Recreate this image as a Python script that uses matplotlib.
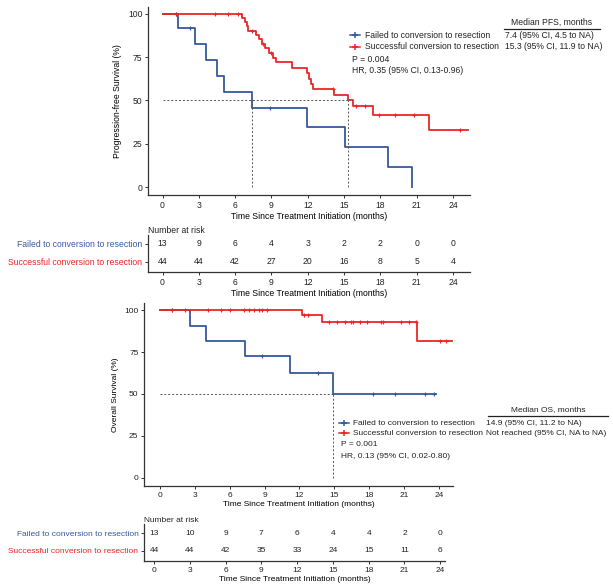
import matplotlib
matplotlib.use("Agg")
import matplotlib.pyplot as plt
from matplotlib.lines import Line2D

plt.rcParams["font.family"] = ["Liberation Sans", "DejaVu Sans"]

W, H = 613, 586
FS_TOP = 6.25
FS_BOTTOM = 6.0
BLUE = "#35589F"
RED = "#EC2626"
GREY = "#555555"

groups = ["Failed to conversion to resection", "Successful conversion to resection"]
risk_times = [0, 3, 6, 9, 12, 15, 18, 21, 24]

# progression-free survival (months, %)
pfs_failed_t = [0, 1.25, 2.65, 3.6, 4.5, 5.1, 7.4, 11.9, 15.05, 18.6, 20.6]
pfs_failed_s = [100, 91.7, 82.5, 73.3, 64.2, 55.0, 45.8, 34.4, 22.9, 11.5, 0]
pfs_failed_end = 20.6
pfs_failed_cens_t = [1.1, 2.3, 8.9]
pfs_failed_cens_s = [100, 91.7, 45.8]

pfs_success_t = [0, 6.6, 6.8, 6.95, 7.1, 7.75, 8.0, 8.25, 8.5, 8.8, 9.1, 9.35,
                 10.7, 11.9, 12.1, 12.3, 12.45, 14.2, 15.3, 15.7, 17.4, 22.0]
pfs_success_s = [100, 97.6, 95.2, 92.8, 90.4, 87.9, 85.3, 82.7, 80.1, 77.5, 74.8, 72.1,
                 68.7, 65.6, 62.5, 59.6, 56.8, 53.3, 50.0, 46.6, 41.4, 33.1]
pfs_success_end = 25.2
pfs_success_cens_t = [1.1, 4.3, 5.4, 6.2, 7.35, 8.3, 9.0, 14.1, 16.0, 16.7, 17.9, 19.2, 20.8, 24.6]
pfs_success_cens_s = [100, 100, 100, 100, 90.4, 82.7, 77.5, 56.8, 46.6, 46.6, 41.4, 41.4, 41.4, 33.1]

pfs_medians = [7.4, 15.3]
pfs_risk_failed = [13, 9, 6, 4, 3, 2, 2, 0, 0]
pfs_risk_success = [44, 44, 42, 27, 20, 16, 8, 5, 4]
pfs_stats = ["P = 0.004", "HR, 0.35 (95% CI, 0.13-0.96)"]
pfs_median_title = "Median PFS, months"
pfs_median_text = ["7.4 (95% CI, 4.5 to NA)", "15.3 (95% CI, 11.9 to NA)"]

# overall survival
os_failed_t = [0, 2.56, 3.92, 7.33, 11.17, 14.85]
os_failed_s = [100, 90.9, 81.8, 72.7, 62.3, 50.0]
os_failed_end = 23.7
os_failed_cens_t = [1.0, 2.16, 8.8, 13.6, 18.3, 20.2, 22.8, 23.6]
os_failed_cens_s = [100, 100, 72.7, 62.3, 50.0, 50.0, 50.0, 50.0]

os_success_t = [0, 12.2, 13.9, 22.1]
os_success_s = [100, 97.0, 93.2, 81.5]
os_success_end = 25.1
os_success_cens_t = [1.0, 4.15, 5.26, 6.05, 7.19, 7.7, 8.1, 8.56, 8.81, 9.18,
                     12.4, 12.7, 14.5, 15.2, 15.9, 16.4, 16.6, 17.2, 17.8, 19.0,
                     19.2, 20.7, 21.4, 22.0, 24.1, 24.6]
os_success_cens_s = [100] * 10 + [97.0] * 2 + [93.2] * 12 + [81.5] * 2

os_medians = [14.9]
os_risk_failed = [13, 10, 9, 7, 6, 4, 4, 2, 0]
os_risk_success = [44, 44, 42, 35, 33, 24, 15, 11, 6]
os_stats = ["P = 0.001", "HR, 0.13 (95% CI, 0.02-0.80)"]
os_median_title = "Median OS, months"
os_median_text = ["14.9 (95% CI, 11.2 to NA)", "Not reached (95% CI, NA to NA)"]


def fx(x):
    return x / W


def fy(y):
    return 1 - y / H


def add_axes_px(fig, left, top, right, bottom):
    return fig.add_axes([fx(left), fy(bottom), (right - left) / W, (bottom - top) / H])


def style_axes(ax, fs):
    for side in ["top", "right"]:
        ax.spines[side].set_visible(False)
    for side in ["left", "bottom"]:
        ax.spines[side].set_color("#333333")
        ax.spines[side].set_linewidth(0.9)
    ax.tick_params(labelsize=fs, length=2.5, width=0.7, pad=1.5, colors="#333333",
                   labelcolor="#222222")


def draw_curve(ax, t, s, t_end, cens_t, cens_s, color):
    ax.step(list(t) + [t_end], list(s) + [s[-1]], where="post", color=color, lw=1.3)
    ax.plot(cens_t, cens_s, ls="none", marker="+", ms=3.5, mew=0.8, color=color)


def km_panel(fig, box, xlim, ylim, curves, medians, ylabel, fs):
    ax = add_axes_px(fig, *box)
    style_axes(ax, fs)
    for c in curves:
        draw_curve(ax, *c)
    ax.plot([0, max(medians)], [50, 50], ls=(0, (2, 2)), color=GREY, lw=0.7)
    for m in medians:
        ax.plot([m, m], [0, 50], ls=(0, (2, 2)), color=GREY, lw=0.7)
    ax.set_xlim(*xlim)
    ax.set_ylim(*ylim)
    ax.set_xticks(risk_times)
    ax.set_yticks([0, 25, 50, 75, 100])
    ax.set_xlabel("Time Since Treatment Initiation (months)", fontsize=fs, labelpad=2)
    ax.set_ylabel(ylabel, fontsize=fs, labelpad=4)
    return ax


def risk_panel(fig, box, xlim, ylim, failed, success, fs):
    ax = add_axes_px(fig, *box)
    style_axes(ax, fs)
    for t, a, b in zip(risk_times, failed, success):
        ax.text(t, 1, str(a), ha="center", va="center", fontsize=fs, color="#222222")
        ax.text(t, 0, str(b), ha="center", va="center", fontsize=fs, color="#222222")
    ax.set_xlim(*xlim)
    ax.set_ylim(*ylim)
    ax.set_xticks(risk_times)
    ax.set_yticks([1, 0])
    ax.set_yticklabels(groups)
    for lab, col in zip(ax.get_yticklabels(), [BLUE, RED]):
        lab.set_color(col)
    ax.set_xlabel("Time Since Treatment Initiation (months)", fontsize=fs, labelpad=2)
    ax.text(0, 1, "Number at risk", transform=ax.transAxes, ha="left", va="bottom",
            fontsize=fs, color="#222222")
    return ax


def legend_block(fig, x_mark, x_text, rows_y, stats_y, stats, med_x, med_title_y,
                 med_line, med_title, med_text, fs):
    for y, col, name in zip(rows_y, [BLUE, RED], groups):
        fig.add_artist(Line2D([fx(x_mark - 5), fx(x_mark), fx(x_mark + 5)], [fy(y)] * 3,
                              transform=fig.transFigure, color=col, lw=1.1,
                              marker="+", ms=5, mew=1.1, markevery=[1]))
        fig.text(fx(x_text), fy(y), name, ha="left", va="center", fontsize=fs, color="#222222")
    for y, s in zip(stats_y, stats):
        fig.text(fx(x_mark - 3), fy(y), s, ha="left", va="center", fontsize=fs, color="#222222")
    x0, x1 = med_line
    fig.text(fx((x0 + x1) / 2), fy(med_title_y), med_title, ha="center", va="center",
             fontsize=fs, color="#222222")
    fig.add_artist(Line2D([fx(x0), fx(x1)], [fy(med_title_y + 6.3)] * 2,
                          transform=fig.transFigure, color="#222222", lw=0.9))
    for y, s in zip(rows_y, med_text):
        fig.text(fx(med_x), fy(y), s, ha="left", va="center", fontsize=fs, color="#222222")


fig = plt.figure(figsize=(W / 100, H / 100), dpi=100)

km_panel(fig, (148, 7, 470, 195), (-1.2, 25.4), (-4.6, 104),
         [(pfs_failed_t, pfs_failed_s, pfs_failed_end, pfs_failed_cens_t, pfs_failed_cens_s, BLUE),
          (pfs_success_t, pfs_success_s, pfs_success_end, pfs_success_cens_t, pfs_success_cens_s, RED)],
         pfs_medians, "Progression-free Survival (%)", FS_TOP)
risk_panel(fig, (148, 235, 470, 272), (-1.2, 25.4), (-0.56, 1.5),
           pfs_risk_failed, pfs_risk_success, FS_TOP)
legend_block(fig, 355, 365, [35, 46.7], [59, 70.7], pfs_stats, 505, 22.7, (504, 600),
             pfs_median_title, pfs_median_text, FS_TOP)

km_panel(fig, (144, 303, 453, 486), (-1.37, 25.2), (-5.0, 104.4),
         [(os_failed_t, os_failed_s, os_failed_end, os_failed_cens_t, os_failed_cens_s, BLUE),
          (os_success_t, os_success_s, os_success_end, os_success_cens_t, os_success_cens_s, RED)],
         os_medians, "Overall Survival (%)", FS_BOTTOM)
risk_panel(fig, (144, 524, 445, 561), (-0.84, 24.4), (-0.59, 1.53),
           os_risk_failed, os_risk_success, FS_BOTTOM)
legend_block(fig, 344, 353, [423.3, 433.3], [445, 456], os_stats, 486, 410, (488, 608),
             os_median_title, os_median_text, FS_BOTTOM)

fig.savefig("out.png", dpi=100, facecolor="white")
